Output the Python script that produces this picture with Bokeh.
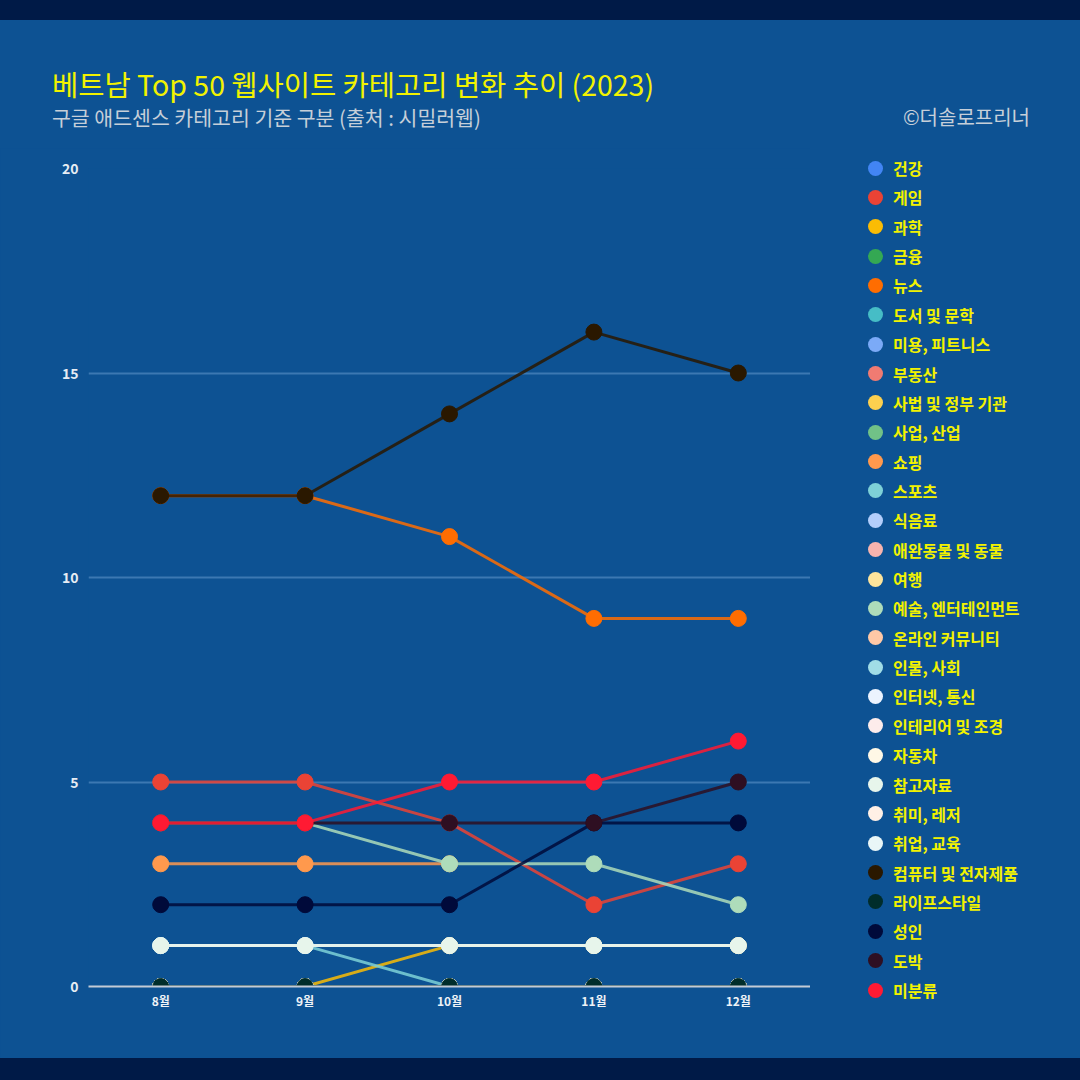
import numpy as np
from bokeh.plotting import figure
from bokeh.layouts import column, row
from bokeh.models import (ColumnDataSource, Div, FactorRange, Range1d, FixedTicker)
from bokeh.embed import file_html
from bokeh.resources import INLINE

months = ["8월", "9월", "10월", "11월", "12월"]

categories = ["건강", "게임", "과학", "금융", "뉴스", "도서 및 문학", "미용, 피트니스", "부동산",
              "사법 및 정부 기관", "사업, 산업", "쇼핑", "스포츠", "식음료", "애완동물 및 동물", "여행",
              "예술, 엔터테인먼트", "온라인 커뮤니티", "인물, 사회", "인터넷, 통신", "인테리어 및 조경",
              "자동차", "참고자료", "취미, 레저", "취업, 교육", "컴퓨터 및 전자제품", "라이프스타일",
              "성인", "도박", "미분류"]

colors = ["#4285f4", "#ea4335", "#fbbc04", "#34a853", "#ff6d01", "#46bdc6", "#7baaf7", "#f07b72",
          "#fcd04f", "#71c287", "#ff994d", "#7ed1d7", "#b3cefb", "#f7b4ae", "#fde49b",
          "#aedcba", "#ffc8a6", "#a1dde6", "#ecf3fe", "#fdeceb",
          "#fff8e6", "#e7f5eb", "#fff0e6", "#e9f6f7", "#2a1800", "#002d2b",
          "#000a3a", "#2e0f22", "#ff1a33"]

v_health = [0, 0, 0, 0, 0]
v_game = [5, 5, 4, 2, 3]
v_science = [0, 0, 1, 1, 1]
v_finance = [0, 0, 0, 0, 0]
v_news = [12, 12, 11, 9, 9]
v_books = [0, 0, 0, 0, 0]
v_beauty = [0, 0, 0, 0, 0]
v_realestate = [0, 0, 0, 0, 0]
v_law = [0, 0, 0, 0, 0]
v_business = [0, 0, 0, 0, 0]
v_shopping = [3, 3, 3, None, None]
v_sports = [1, 1, 0, 0, 0]
v_food = [0, 0, 0, 0, 0]
v_pets = [0, 0, 0, 0, 0]
v_travel = [0, 0, 0, 0, 0]
v_arts = [4, 4, 3, 3, 2]
v_community = [0, 0, 0, 0, 0]
v_people = [0, 0, 0, 0, 0]
v_internet = [1, 1, 1, 1, 1]
v_interior = [0, 0, 0, 0, 0]
v_autos = [0, 0, 0, 0, 0]
v_reference = [1, 1, 1, 1, 1]
v_hobbies = [0, 0, 0, 0, 0]
v_jobs = [0, 0, 0, 0, 0]
v_computers = [12, 12, 14, 16, 15]
v_lifestyle = [0, 0, 0, 0, 0]
v_adult = [2, 2, 2, 4, 4]
v_gambling = [4, 4, 4, 4, 5]
v_unknown = [4, 4, 5, 5, 6]

series = [v_health, v_game, v_science, v_finance, v_news, v_books, v_beauty, v_realestate,
          v_law, v_business, v_shopping, v_sports, v_food, v_pets, v_travel,
          v_arts, v_community, v_people, v_internet, v_interior,
          v_autos, v_reference, v_hobbies, v_jobs, v_computers, v_lifestyle,
          v_adult, v_gambling, v_unknown]

y_ticks = [0, 5, 10, 15, 20]

title_text = "베트남 Top 50 웹사이트 카테고리 변화 추이 (2023)"
subtitle_text = "구글 애드센스 카테고리 기준 구분 (출처 : 시밀러웹)"
credit_text = "©더솔로프리너"

PANEL = "#0d5293"
BAND = "#001a47"
FONT = "Noto Sans CJK KR"

# ---- header (title, subtitle, credit) ----
header_html = (
    '<div style="position:relative;width:1080px;height:128px;font-family:\'Noto Sans CJK KR\';">'
    '<span style="position:absolute;left:52px;top:44px;line-height:40px;font-size:28.5px;'
    'color:#f2f200;white-space:nowrap;">' + title_text + '</span>'
    '<span style="position:absolute;left:52px;top:82px;line-height:30px;font-size:20.5px;'
    'color:#c6cfd9;white-space:nowrap;">' + subtitle_text + '</span>'
    '<span style="position:absolute;right:50px;top:82px;line-height:30px;font-size:20px;'
    'color:#c6cfd9;white-space:nowrap;">' + credit_text + '</span>'
    '</div>'
)
header = Div(text=header_html, width=1080, height=128, margin=(0, 0, 0, 0),
             styles={"background-color": PANEL})

# ---- chart ----
p = figure(width=810, height=910, x_range=FactorRange(*months), y_range=Range1d(0, 20),
           output_backend="svg", toolbar_location=None,
           min_border_left=88, min_border_right=0, min_border_top=20, min_border_bottom=72,
           background_fill_color=PANEL, border_fill_color=PANEL, outline_line_color=None)

p.xgrid.grid_line_color = None
p.ygrid.grid_line_color = "#3c78b2"
p.ygrid.grid_line_width = 2
p.yaxis.ticker = FixedTicker(ticks=y_ticks)
p.yaxis.axis_line_color = None
p.yaxis.major_tick_line_color = None
p.yaxis.minor_tick_line_color = None
p.yaxis.major_tick_out = 0
p.yaxis.minor_tick_out = 0
p.yaxis.major_label_text_color = "#e6ecf3"
p.yaxis.major_label_text_font = FONT
p.yaxis.major_label_text_font_style = "bold"
p.yaxis.major_label_text_font_size = "14px"
p.yaxis.major_label_standoff = 10
p.xaxis.axis_line_color = "#c3cbd6"
p.xaxis.axis_line_width = 2
p.xaxis.major_tick_line_color = None
p.xaxis.minor_tick_line_color = None
p.xaxis.major_tick_out = 0
p.xaxis.minor_tick_out = 0
p.xaxis.major_label_text_color = "#eef2f7"
p.xaxis.major_label_text_font = FONT
p.xaxis.major_label_text_font_style = "bold"
p.xaxis.major_label_text_font_size = "12px"
p.xaxis.major_label_standoff = 5

for name, col, vals in zip(categories, colors, series):
    y = np.array([np.nan if v is None else v for v in vals], dtype=float)
    src = ColumnDataSource(dict(x=months, y=y))
    p.line("x", "y", source=src, line_color=col, line_width=3, line_alpha=0.85)
    p.scatter("x", "y", source=src, size=16, fill_color=col, line_color=col)

# ---- legend (right column, one row per category) ----
ROW_PITCH = 822 / 28.0
rows = []
for i, (name, col) in enumerate(zip(categories, colors)):
    top = 20 + i * ROW_PITCH - 15
    rows.append(
        '<div style="position:absolute;left:0px;top:%.1fpx;height:30px;display:flex;'
        'align-items:center;white-space:nowrap;">'
        '<span style="display:inline-block;width:15px;height:15px;border-radius:50%%;'
        'background:%s;margin-left:58px;"></span>'
        '<span style="margin-left:10px;font-size:16px;font-weight:bold;line-height:30px;'
        'color:#f2f200;">%s</span></div>' % (top, col, name))
legend_html = ('<div style="position:relative;width:270px;height:910px;'
               'font-family:\'Noto Sans CJK KR\';">' + "".join(rows) + '</div>')
legend_div = Div(text=legend_html, width=270, height=910, margin=(0, 0, 0, 0),
                 styles={"background-color": PANEL})

page = column(header, row(p, legend_div, spacing=0), spacing=0,
              styles={"position": "absolute", "left": "0px", "top": "0px",
                      "width": "1080px", "overflow": "hidden",
                      "border-top": "20px solid " + BAND, "border-bottom": "22px solid " + BAND,
                      "background-color": PANEL})

open("out.html", "w").write(file_html(page, INLINE))
